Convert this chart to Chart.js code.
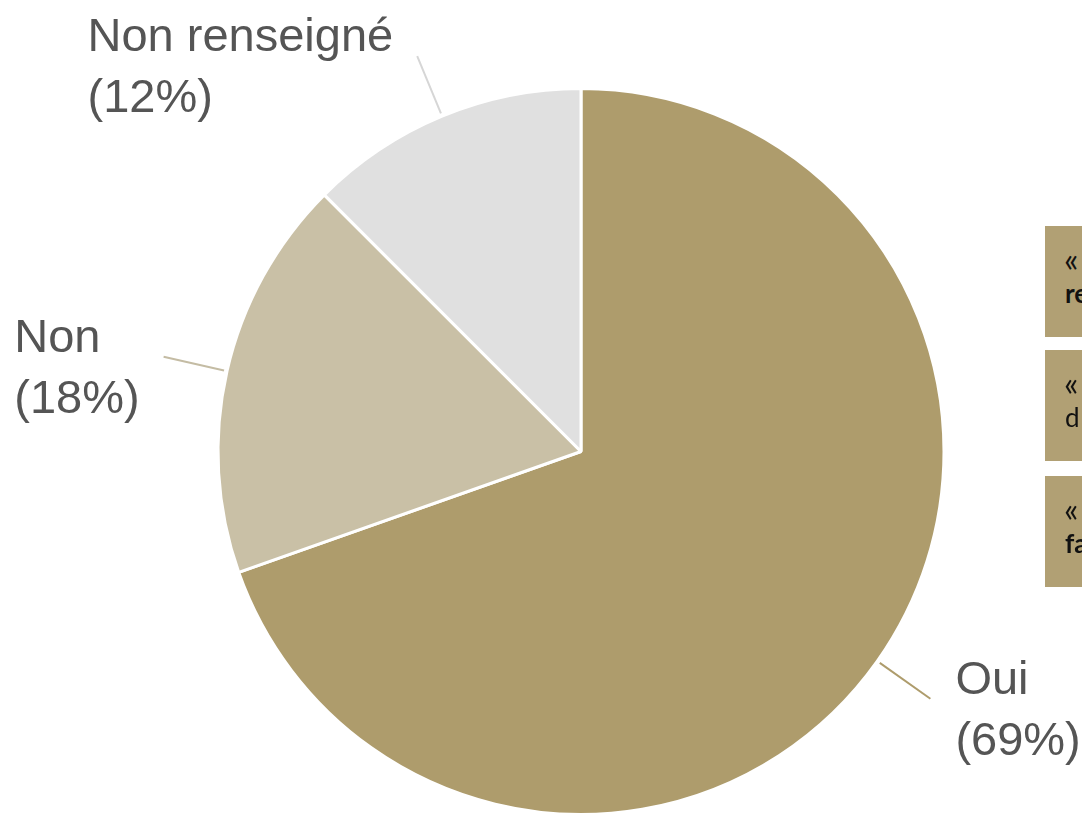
<!DOCTYPE html>
<html>
<head>
<meta charset="utf-8">
<script src="https://cdn.jsdelivr.net/npm/chart.js@4"></script>
<style>
  html, body { margin:0; padding:0; background:#ffffff; overflow:hidden; width:1082px; height:816px; }
  #wrap { position:relative; width:1082px; height:816px; overflow:hidden; }
  canvas { position:absolute; left:0; top:0; }
  .box { position:absolute; left:1045px; width:400px; height:111px; background:#b1a074;
         font-family:"Lato","Open Sans",sans-serif; font-size:26px; color:#111; box-sizing:border-box;
         padding-left:20px; white-space:nowrap; }
  .box .l1 { position:absolute; left:19px; top:16px; line-height:34px; font-size:34px; }
  .box .l2 { position:absolute; left:20px; top:52px; line-height:30px; }
</style>
</head>
<body>
<div id="wrap">
  <canvas id="c" width="1082" height="816"></canvas>
</div>
<script>
const categories = ['Oui', 'Non', 'Non renseigné'];
const shares = [69.6, 17.9, 12.5];
const percentLabels = ['69%', '18%', '12%'];
const sliceColors = ['#ae9c6c', '#c9c0a6', '#e0e0e0'];
const lineColors = ['#ae9c6c', '#c4bca4', '#d6d6d6'];

const boxOpenings = ['«', '«', '«'];
const boxWords = ['re', 'd', 'fa'];
const boxBold = [true, false, true];
const boxTops = [226, 350, 476];

const wrap = document.getElementById('wrap');
boxWords.forEach((w, i) => {
  const d = document.createElement('div');
  d.className = 'box';
  d.style.top = boxTops[i] + 'px';
  const a = document.createElement('div'); a.className = 'l1'; a.textContent = boxOpenings[i];
  const b = document.createElement('div'); b.className = 'l2'; b.textContent = w;
  if (boxBold[i]) b.style.fontWeight = '700';
  d.appendChild(a); d.appendChild(b);
  wrap.appendChild(d);
});

const leaderLabels = {
  id: 'leaderLabels',
  afterDatasetsDraw(chart) {
    const ctx = chart.ctx;
    const meta = chart.getDatasetMeta(0);
    meta.data.forEach((arc, i) => {
      const p = arc.getProps(['x', 'y', 'startAngle', 'endAngle', 'outerRadius'], true);
      const mid = (p.startAngle + p.endAngle) / 2;
      const c = Math.cos(mid), s = Math.sin(mid);
      const r0 = p.outerRadius + 3, r1 = p.outerRadius + 65;
      const x0 = p.x + c * r0, y0 = p.y + s * r0;
      const x1 = p.x + c * r1, y1 = p.y + s * r1;
      ctx.save();
      ctx.strokeStyle = lineColors[i];
      ctx.lineWidth = 2;
      ctx.beginPath(); ctx.moveTo(x0, y0); ctx.lineTo(x1, y1); ctx.stroke();
      ctx.font = '47px "Liberation Sans", Arial, sans-serif';
      ctx.fillStyle = '#555555';
      ctx.textAlign = 'left';
      ctx.textBaseline = 'alphabetic';
      const lines = [categories[i], '(' + percentLabels[i] + ')'];
      const w = Math.max(...lines.map(t => ctx.measureText(t).width));
      const tx = c >= 0 ? x1 + 25 : x1 - 24 - w;
      const by = y1 - 5;
      lines.forEach((t, k) => ctx.fillText(t, tx, by + k * 61));
      ctx.restore();
    });
  }
};

new Chart(document.getElementById('c'), {
  type: 'pie',
  data: {
    labels: categories,
    datasets: [{
      data: shares,
      backgroundColor: sliceColors,
      borderColor: '#ffffff',
      borderWidth: 3
    }]
  },
  options: {
    responsive: false,
    animation: false,
    layout: { padding: { top: 87, bottom: 0, left: 216, right: 136 } },
    plugins: { legend: { display: false }, tooltip: { enabled: false } }
  },
  plugins: [leaderLabels]
});
</script>
</body>
</html>
